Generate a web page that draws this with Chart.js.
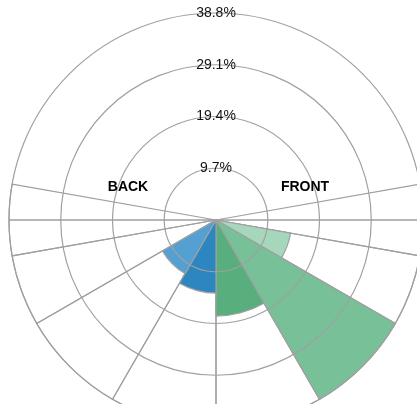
<!DOCTYPE html>
<html>
<head>
<meta charset="utf-8">
<script src="https://cdn.jsdelivr.net/npm/chart.js@4/dist/chart.umd.min.js"></script>
<style>
  html, body { margin: 0; padding: 0; overflow: hidden; background: #fff; width: 417px; height: 404px; }
  #c { position: absolute; left: 0; top: 4px; }
</style>
</head>
<body>
<canvas id="c" width="432" height="432"></canvas>
<script>
// Sectors, clockwise from the top (0°)
const categories = ['0°–80°', '80°–90°', '90°–100°', '100°–120°', '120°–150°', '150°–180°',
                    '180°–210°', '210°–240°', '240°–260°', '260°–270°', '270°–280°', '280°–360°'];
const sectorAngles = [80, 10, 10, 20, 30, 30, 30, 30, 20, 10, 10, 80];
const shareValues = [0, 0, 0, 14.2, 38.8, 18.0, 13.7, 11.6, 0, 0, 0, 0];
const sectorColors = ['rgba(0,0,0,0)', 'rgba(0,0,0,0)', 'rgba(0,0,0,0)', '#a6d7bc', '#78c098', '#58ae7c',
                      '#2e86c1', '#55a0d3', 'rgba(0,0,0,0)', 'rgba(0,0,0,0)', 'rgba(0,0,0,0)', 'rgba(0,0,0,0)'];
const sectorEdged = [false, true, true, true, true, true, true, true, true, true, true, false];
const tickValues = [0, 9.7, 19.4, 29.1, 38.8];
const sideLabels = ['BACK', 'FRONT'];

const scaleMax = tickValues[tickValues.length - 1];
const gridColor = '#a0a0a0';
const lineW = 1.2;

Chart.defaults.font.family = "'Liberation Sans', Arial, Helvetica, sans-serif";

const sideLabelPlugin = {
  id: 'sideLabels',
  afterDraw(chart) {
    const s = chart.scales.r;
    const ctx = chart.ctx;
    ctx.save();
    ctx.font = 'bold 14px "Liberation Sans", Arial, sans-serif';
    ctx.fillStyle = '#000';
    ctx.textAlign = 'center';
    ctx.textBaseline = 'middle';
    ctx.fillText(sideLabels[0], s.xCenter - 88, s.yCenter - 33);
    ctx.fillText(sideLabels[1], s.xCenter + 89, s.yCenter - 33);
    ctx.restore();
  }
};

new Chart(document.getElementById('c'), {
  type: 'polarArea',
  data: {
    labels: categories,
    datasets: [
      {
        label: 'Share',
        data: shareValues,
        backgroundColor: sectorColors,
        borderColor: gridColor,
        borderWidth: (ctx) => sectorEdged[ctx.dataIndex] ? lineW : 0,
        angle: (ctx) => sectorAngles[ctx.dataIndex]
      },
      {
        label: 'Sector grid',
        data: sectorAngles.map(() => scaleMax),
        backgroundColor: 'rgba(0,0,0,0)',
        borderColor: gridColor,
        borderWidth: (ctx) => sectorEdged[ctx.dataIndex] ? lineW : 0,
        angle: (ctx) => sectorAngles[ctx.dataIndex]
      }
    ]
  },
  plugins: [sideLabelPlugin],
  options: {
    responsive: false,
    animation: false,
    layout: { padding: 0 },
    plugins: { legend: { display: false }, tooltip: { enabled: false } },
    scales: {
      r: {
        startAngle: 0,
        min: 0,
        max: scaleMax,
        afterBuildTicks: (scale) => { scale.ticks = tickValues.map(v => ({ value: v })); },
        grid: { color: gridColor, lineWidth: lineW, z: 1 },
        angleLines: { display: false },
        pointLabels: { display: false },
        ticks: {
          z: 1,
          showLabelBackdrop: false,
          color: '#111',
          font: { size: 14 },
          callback: (v) => v.toFixed(1) + '%'
        }
      }
    }
  }
});
</script>
</body>
</html>
